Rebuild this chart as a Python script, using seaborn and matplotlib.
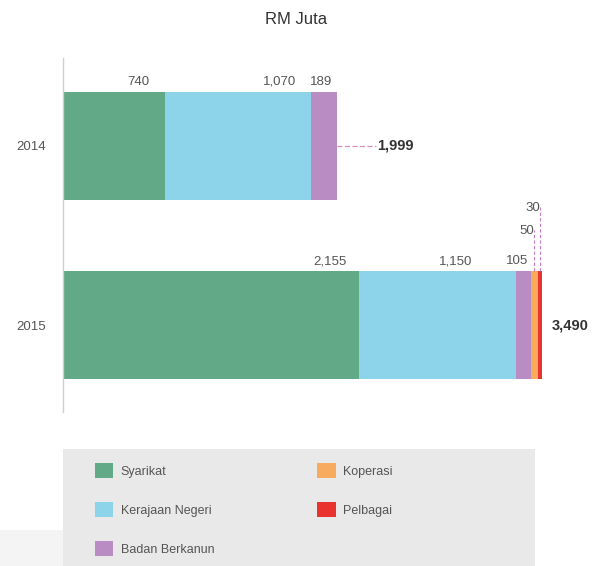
import numpy as np
import pandas as pd
import matplotlib
matplotlib.use("Agg")
import matplotlib.pyplot as plt
import matplotlib.patches as mpatches
import seaborn as sns

# data
years = ["2014", "2015"]
categories = ["Syarikat", "Kerajaan Negeri", "Badan Berkanun", "Koperasi", "Pelbagai"]
syarikat = [740, 2155]
kerajaan = [1070, 1150]
badan = [189, 105]
koperasi = [0, 50]
pelbagai = [0, 30]
totals = [1999, 3490]
colors = ["#62a987", "#8dd4ea", "#b98cc4", "#f6ab5e", "#e8332f"]

sns.set_style("white")
plt.rcParams["font.family"] = ["Liberation Sans", "DejaVu Sans"]

df = pd.DataFrame({"year": years, "Syarikat": syarikat, "Kerajaan Negeri": kerajaan,
                   "Badan Berkanun": badan, "Koperasi": koperasi, "Pelbagai": pelbagai})
cum = df[categories].cumsum(axis=1)

fig = plt.figure(figsize=(5.92, 5.66), dpi=100)
ax = fig.add_axes([63 / 592, (566 - 412) / 566, (570 - 63) / 592, (412 - 58) / 566])

# stacked bars: draw cumulative totals from the outermost segment inward
for cat, col in reversed(list(zip(categories, colors))):
    sns.barplot(x=cum[cat], y=df["year"], orient="h", color=col, width=0.6,
                saturation=1, ax=ax, linewidth=0)

ax.set_xlim(0, (570 - 63) / 0.1372)
ax.set_ylim(1.485, -0.49)
ax.set_xlabel("")
ax.set_ylabel("")
ax.set_xticks([])
for s in ["top", "right", "bottom"]:
    ax.spines[s].set_visible(False)
ax.spines["left"].set_color("#cfcfcf")
ax.spines["left"].set_linewidth(1)
ax.tick_params(axis="y", length=0, pad=12, labelsize=9.5, labelcolor="#555555")

# segment value labels (offsets in points from the segment end)
offsets = {(0, 0): -11, (0, 1): -11, (0, 2): -4,
           (1, 0): -9, (1, 1): -32, (1, 2): -2}
for i in range(len(years)):
    for j, cat in enumerate(categories[:3]):
        ax.annotate(f"{df[cat][i]:,}", (cum[cat][i], i - 0.3), xytext=(offsets[(i, j)], 3),
                    textcoords="offset points", ha="right", va="bottom",
                    fontsize=9.5, color="#555555")

# small segments of 2015 with dashed leaders
for cat, lift in [("Koperasi", 0.19), ("Pelbagai", 0.32)]:
    xc = cum[cat][1] - df[cat][1] / 2
    ax.plot([xc, xc], [1 - 0.3, 1 - 0.3 - lift - 0.04], ls=(0, (3, 2)), color="#c77bc9", lw=0.8)
    ax.annotate(f"{df[cat][1]:,}", (xc, 1 - 0.3 - lift), xytext=(0, 0),
                textcoords="offset points", ha="right", va="bottom",
                fontsize=9.5, color="#555555")

# totals
ax.plot([totals[0], totals[0] + 280], [0, 0], ls=(0, (4, 2)), color="#d98fb8", lw=0.9)
ax.text(totals[0] + 290, 0, f"{totals[0]:,}", va="center", ha="left",
        fontsize=10.5, fontweight="bold", color="#333333")
ax.text(totals[1] + 70, 1, f"{totals[1]:,}", va="center", ha="left",
        fontsize=10.5, fontweight="bold", color="#333333")

fig.text(0.5, 1 - 20 / 566, "RM Juta", ha="center", va="center", fontsize=12,
         color="#333333")

# legend panel
fig.patches.append(mpatches.Rectangle((0, 0), 63 / 592, 36 / 566, transform=fig.transFigure,
                                      facecolor="#f4f4f4", edgecolor="none", zorder=0))
lax = fig.add_axes([63 / 592, 0, (535 - 63) / 592, (566 - 449) / 566])
lax.set_facecolor("#e9e9e9")
lax.set_xticks([])
lax.set_yticks([])
for s in lax.spines.values():
    s.set_visible(False)
handles = [mpatches.Patch(facecolor=c, edgecolor="none") for c in colors]
lax.legend(handles, categories, ncol=2, loc="upper left", bbox_to_anchor=(0.043, 0.975),
           frameon=False, fontsize=9, labelcolor="#555555", handlelength=1.5,
           handleheight=1.5, labelspacing=1.9, columnspacing=8.2, handletextpad=0.6)

fig.savefig("out.png", dpi=100)
